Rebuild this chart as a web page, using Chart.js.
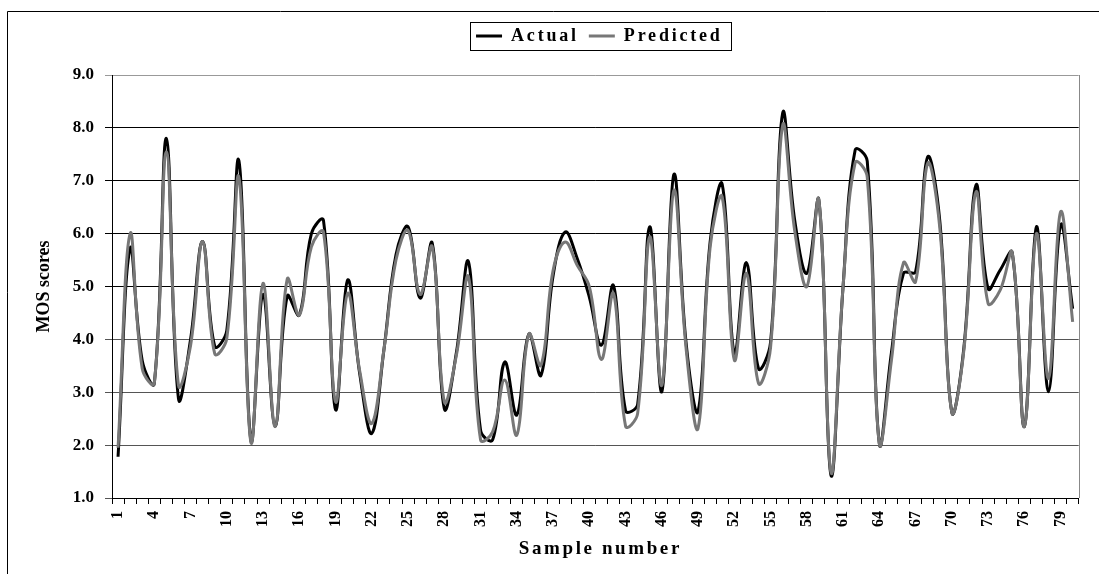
<!DOCTYPE html>
<html><head><meta charset="utf-8">
<script src="https://cdn.jsdelivr.net/npm/chart.js@4.4.1/dist/chart.umd.min.js"></script>
<style>html,body{margin:0;padding:0;background:#fff;}#wrap{width:1099px;height:574px;}</style>
</head><body><div id="wrap"><canvas id="c" width="1099" height="574"></canvas></div>
<script>
const sampleNumbers = ['1','2','3','4','5','6','7','8','9','10','11','12','13','14','15','16','17','18','19','20',
'21','22','23','24','25','26','27','28','29','30','31','32','33','34','35','36','37','38','39','40',
'41','42','43','44','45','46','47','48','49','50','51','52','53','54','55','56','57','58','59','60',
'61','62','63','64','65','66','67','68','69','70','71','72','73','74','75','76','77','78','79','80'];

const actualScores = [1.78,5.72,3.60,3.17,7.80,2.88,4.00,5.85,3.87,4.17,
7.38,2.08,4.85,2.35,4.82,4.46,6.00,6.25,2.67,5.12,
3.35,2.22,3.80,5.60,6.13,4.78,5.82,2.69,3.75,5.47,
2.28,2.10,3.57,2.57,4.10,3.32,5.20,6.03,5.53,4.80,
3.89,5.02,2.65,2.77,6.13,3.01,7.12,3.95,2.64,5.85,
6.93,3.73,5.45,3.45,3.95,8.28,6.25,5.25,6.63,1.43,
5.00,7.58,7.37,2.03,3.75,5.25,5.28,7.45,6.25,2.62,
3.85,6.92,4.96,5.31,5.64,2.35,6.13,3.01,6.16,4.58];

const predictedScores = [1.95,6.00,3.45,3.17,7.55,3.13,3.88,5.85,3.73,4.02,
7.07,2.05,5.06,2.35,5.14,4.46,5.75,6.03,2.82,4.87,
3.40,2.41,3.80,5.50,6.06,4.85,5.75,2.82,3.70,5.18,
2.10,2.25,3.23,2.19,4.10,3.51,5.30,5.84,5.40,5.00,
3.62,4.87,2.36,2.60,5.94,3.13,6.82,3.85,2.32,5.75,
6.69,3.61,5.25,3.17,3.85,8.05,6.05,5.00,6.63,1.48,
5.00,7.34,7.07,2.03,3.60,5.45,5.09,7.33,6.12,2.62,
3.80,6.79,4.68,4.93,5.64,2.35,6.00,3.26,6.41,4.33];

const yTickMin = 1, yTickMax = 9, yTickStep = 1;

const FONT = "'Liberation Serif', 'Times New Roman', serif";

const framePlugin = {
  id: 'frame',
  afterInit(chart) {
    const lg = chart.legend;
    const ctx = chart.ctx;
    const fit0 = lg.fit;
    lg.fit = function () {
      ctx.save(); ctx.letterSpacing = '2.8px';
      fit0.call(this);
      ctx.restore();
      this.height += 20;
    };
    const draw0 = lg.draw;
    lg.draw = function () {
      ctx.save(); ctx.translate(4, 0); ctx.letterSpacing = '2.8px';
      draw0.call(this);
      const hb = this.legendHitBoxes;
      if (hb && hb.length) {
        const l = hb[0].left - 6.5;
        const r = hb[hb.length - 1].left + hb[hb.length - 1].width + 8;
        const cy = hb[0].top + hb[0].height / 2;
        ctx.strokeStyle = '#000'; ctx.lineWidth = 1;
        ctx.strokeRect(Math.round(l) + 0.5, Math.round(cy - 14) + 0.5, Math.round(r - l), 28);
      }
      ctx.restore();
    };
  },
  beforeDraw(chart) {
    const ctx = chart.ctx;
    const sx = chart.scales.x;
    if (sx && !sx._lsPatched) {
      const dt = sx.drawTitle;
      sx.drawTitle = function () {
        ctx.save(); ctx.translate(5, 0); ctx.letterSpacing = '2.6px';
        dt.apply(this, arguments);
        ctx.restore();
      };
      sx._lsPatched = true;
    }
    ctx.save();
    ctx.fillStyle = '#fff';
    ctx.fillRect(0, 0, chart.width, chart.height);
    ctx.strokeStyle = '#000'; ctx.lineWidth = 1;
    ctx.beginPath();
    ctx.moveTo(7.5, chart.height); ctx.lineTo(7.5, 11.5); ctx.lineTo(chart.width, 11.5);
    ctx.stroke();
    ctx.restore();
  },
  afterDraw(chart) {
    const a = chart.chartArea, ctx = chart.ctx;
    ctx.save();
    ctx.strokeStyle = '#888'; ctx.lineWidth = 1;
    ctx.beginPath();
    ctx.moveTo(Math.round(a.right) + 0.5, a.top); ctx.lineTo(Math.round(a.right) + 0.5, a.bottom);
    ctx.stroke();
    ctx.restore();
  }
};

new Chart(document.getElementById('c'), {
  type: 'line',
  data: {
    labels: sampleNumbers,
    datasets: [
      { label: 'Actual', data: actualScores, borderColor: '#000', backgroundColor: '#000',
        borderWidth: 3, pointRadius: 0, tension: 0.4, fill: false, order: 1 },
      { label: 'Predicted', data: predictedScores, borderColor: '#777777', backgroundColor: '#777777',
        borderWidth: 3, pointRadius: 0, tension: 0.4, fill: false, order: 0 }
    ]
  },
  options: {
    responsive: false, animation: false, devicePixelRatio: 1,
    layout: { padding: { top: 17, left: 0, right: 7, bottom: 0 } },
    plugins: {
      tooltip: { enabled: false },
      legend: {
        position: 'top', fullSize: false,
        labels: {
          boxWidth: 26, boxHeight: 3, padding: 10, color: '#000',
          font: { family: FONT, size: 18, weight: 'bold' },
          sort: (a, b) => a.datasetIndex - b.datasetIndex,
          generateLabels(chart) {
            const items = Chart.defaults.plugins.legend.labels.generateLabels(chart);
            items.forEach(it => { it.lineWidth = 0; });
            return items;
          }
        }
      }
    },
    scales: {
      x: {
        type: 'category', offset: true,
        grid: { offset: true, drawOnChartArea: false, drawTicks: true, tickLength: 6, color: '#000', lineWidth: 1 },
        border: { display: true, color: '#000', width: 1 },
        ticks: {
          autoSkip: false, maxRotation: 90, minRotation: 90, padding: 7, color: '#000',
          font: { family: FONT, size: 16, weight: 'bold' },
          callback: function (value, index) { return index % 3 === 0 ? this.getLabelForValue(value) : ''; }
        },
        title: { display: true, text: 'Sample number', color: '#000',
          font: { family: FONT, size: 19, weight: 'bold' }, padding: { top: 0, bottom: 14 } },
        afterFit: s => { s.height = 76; }
      },
      y: {
        type: 'linear', min: yTickMin, max: yTickMax,
        grid: {
          drawTicks: true, tickLength: 7, lineWidth: 1,
          color: c => (c.tick && c.tick.value === yTickMax) ? '#999' : ((c.tick && c.tick.value >= 5) ? '#000' : '#555')
        },
        border: { display: true, color: '#000', width: 1 },
        ticks: {
          stepSize: yTickStep, padding: 11, color: '#000',
          font: { family: FONT, size: 17, weight: 'bold' },
          callback: v => Number(v).toFixed(1)
        },
        title: { display: true, text: 'MOS scores', color: '#000',
          font: { family: FONT, size: 18, weight: 'bold' }, padding: { top: 34, bottom: 0 } },
        afterFit: s => { s.width = 112; }
      }
    }
  },
  plugins: [framePlugin]
});
</script>
</body></html>
